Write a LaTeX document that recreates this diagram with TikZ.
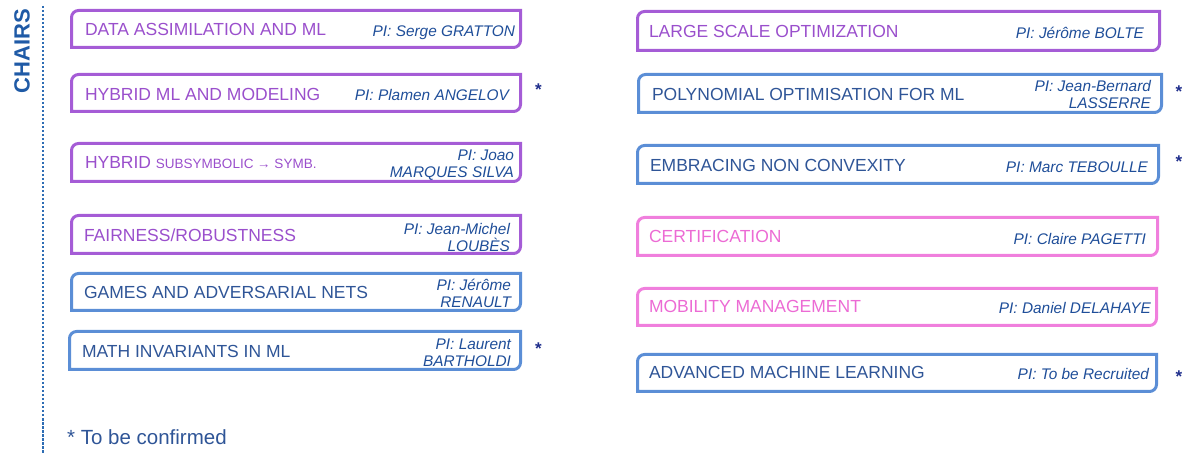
\documentclass[tikz,border=0pt]{standalone}
\usepackage{fontspec}
\setmainfont{Liberation Sans}
\definecolor{purbd}{HTML}{A55CD6}
\definecolor{purtx}{HTML}{9A4FCC}
\definecolor{blubd}{HTML}{5B8ED6}
\definecolor{blutx}{HTML}{2F5597}
\definecolor{pinbd}{HTML}{F07FDD}
\definecolor{pintx}{HTML}{EC6BD4}
\definecolor{pitx}{HTML}{1F4E99}
\definecolor{startx}{HTML}{1F2E8C}
\definecolor{headtx}{HTML}{1F5AA6}
\definecolor{dashc}{HTML}{2E6DB4}
\tikzset{
  chairbox/.style={rectangle, inner sep=0pt, outer sep=0pt},
  bord/.style={line width=3pt},
  title/.style={inner sep=0pt, outer sep=0pt, anchor=base west, font=\fontsize{17.5}{17.5}\selectfont},
  pi/.style={inner sep=0pt, outer sep=0pt, align=right, text=pitx, font=\fontsize{15.4}{17}\selectfont\itshape},
  star/.style={inner sep=0pt, outer sep=0pt, anchor=base, text=startx, font=\fontsize{17}{17}\selectfont\bfseries},
}
\newcommand{\mkbox}[6]{% name, x1, y1, x2, y2, colour
  \node[chairbox, anchor=north west, minimum width=#4pt-#2pt-3pt, minimum height=#5pt-#3pt-3pt] (#1) at (#2+1.5,#3+1.5) {};
  \draw[bord, #6] (#1.south west) -- ([yshift=-7pt]#1.north west) arc[start angle=180, end angle=90, radius=7pt] -- (#1.north east) -- ([yshift=7pt]#1.south east) arc[start angle=0, end angle=-90, radius=7pt] -- cycle;
}
\begin{document}
\begin{tikzpicture}[x=1pt, y=-1pt]
\useasboundingbox (0,0) rectangle (1187,454);
% header
\node[inner sep=0pt, rotate=90, text=headtx, font=\fontsize{22}{22}\selectfont\bfseries] (chairs) at (22,51) {CHAIRS};
\coordinate (dtop) at (43,6);
\coordinate (dbot) at (43,454);
\draw[dashc, line width=1.1pt, dash pattern=on 2.5pt off 1.5pt] (dtop) -- (dbot);
% left column
\mkbox{l1}{70}{9}{522}{49}{purbd}
\mkbox{l2}{70}{73}{522}{113}{purbd}
\mkbox{l3}{70}{142}{522}{183}{purbd}
\mkbox{l4}{70}{214}{522}{255}{purbd}
\mkbox{l5}{70}{272}{522}{312}{blubd}
\mkbox{l6}{68}{330}{522}{371}{blubd}
% right column
\mkbox{r1}{636}{10}{1161}{52}{purbd}
\mkbox{r2}{637}{73}{1163}{114}{blubd}
\mkbox{r3}{636}{144}{1160}{185}{blubd}
\mkbox{r4}{636}{216}{1159}{257}{pinbd}
\mkbox{r5}{636}{287}{1158}{327}{pinbd}
\mkbox{r6}{636}{353}{1158}{393}{blubd}
% titles
\node[title, text=purtx] (l1t) at (85,35.5) {DATA ASSIMILATION AND ML};
\node[title, text=purtx] (l2t) at (85,101) {HYBRID ML AND MODELING};
\node[title, text=purtx] (l3t) at (85,169) {HYBRID {\fontsize{13.5}{13.5}\selectfont SUBSYMBOLIC → SYMB.}};
\node[title, text=purtx] (l4t) at (84,242) {FAIRNESS/ROBUSTNESS};
\node[title, text=blutx] (l5t) at (84,299) {GAMES AND ADVERSARIAL NETS};
\node[title, text=blutx] (l6t) at (82,358) {MATH INVARIANTS IN ML};
\node[title, text=purtx] (r1t) at (649,38) {LARGE SCALE OPTIMIZATION};
\node[title, text=blutx] (r2t) at (652,101) {POLYNOMIAL OPTIMISATION FOR ML};
\node[title, text=blutx] (r3t) at (650,172) {EMBRACING NON CONVEXITY};
\node[title, text=pintx] (r4t) at (649,243) {CERTIFICATION};
\node[title, text=pintx] (r5t) at (649,313) {MOBILITY MANAGEMENT};
\node[title, text=blutx] (r6t) at (649,379) {ADVANCED MACHINE LEARNING};
% PIs
\node[pi, anchor=base east] (l1p) at (515,36.7) {PI: Serge GRATTON};
\node[pi, anchor=base east] (l2p) at (509,100.7) {PI: Plamen ANGELOV};
\node[pi, anchor=east] (l3p) at (514,165.5) {PI: Joao\\MARQUES SILVA};
\node[pi, anchor=east] (l4p) at (510,237.5) {PI: Jean-Michel\\LOUBÈS};
\node[pi, anchor=east] (l5p) at (511,293.5) {PI: Jérôme\\RENAULT};
\node[pi, anchor=east] (l6p) at (511,353) {PI: Laurent\\BARTHOLDI};
\node[pi, anchor=base east] (r1p) at (1144,38.4) {PI: Jérôme BOLTE};
\node[pi, anchor=east] (r2p) at (1151,94.5) {PI: Jean-Bernard\\LASSERRE};
\node[pi, anchor=base east] (r3p) at (1148,172.4) {PI: Marc TEBOULLE};
\node[pi, anchor=base east] (r4p) at (1146,244.4) {PI: Claire PAGETTI};
\node[pi, anchor=base east] (r5p) at (1151,313.4) {PI: Daniel DELAHAYE};
\node[pi, anchor=base east] (r6p) at (1149,379.4) {PI: To be Recruited};
% stars
\node[star] (s1) at (538.5,96) {*};
\node[star] (s2) at (538.5,355) {*};
\node[star] (s3) at (1179,98) {*};
\node[star] (s4) at (1179,168) {*};
\node[star] (s5) at (1179,383) {*};
% footnote
\node[inner sep=0pt, anchor=base west, text=blutx, font=\fontsize{20.5}{20.5}\selectfont] (note) at (67,445) {* To be confirmed};
\end{tikzpicture}
\end{document}
